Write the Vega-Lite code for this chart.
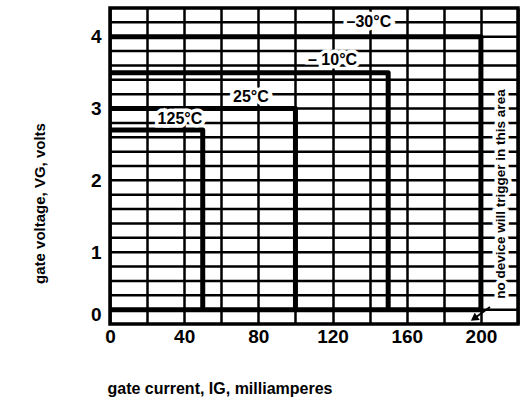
{
  "$schema": "https://vega.github.io/schema/vega-lite/v6.json",
  "width": 408,
  "height": 316,
  "autosize": "none",
  "padding": {"left": 110, "top": 8, "right": 12, "bottom": 77},
  "background": "white",
  "config": {
    "view": {"stroke": "black", "strokeWidth": 3.5},
    "font": "Liberation Sans"
  },
  "datasets": {
    "hgrid": [
      {"vg": 0.2}, {"vg": 0.4}, {"vg": 0.6}, {"vg": 0.8}, {"vg": 1.0},
      {"vg": 1.2}, {"vg": 1.4}, {"vg": 1.6}, {"vg": 1.8}, {"vg": 2.0},
      {"vg": 2.2}, {"vg": 2.4}, {"vg": 2.6}, {"vg": 2.8}, {"vg": 3.0},
      {"vg": 3.2}, {"vg": 3.4}, {"vg": 3.6}, {"vg": 3.8}, {"vg": 4.0},
      {"vg": 4.2}
    ],
    "curves": [
      {"series": "125", "i": 0, "ig": 0, "vg": 2.7},
      {"series": "125", "i": 1, "ig": 50, "vg": 2.7},
      {"series": "125", "i": 2, "ig": 50, "vg": 0.2},
      {"series": "25", "i": 0, "ig": 0, "vg": 3.0},
      {"series": "25", "i": 1, "ig": 100, "vg": 3.0},
      {"series": "25", "i": 2, "ig": 100, "vg": 0.2},
      {"series": "-10", "i": 0, "ig": 0, "vg": 3.5},
      {"series": "-10", "i": 1, "ig": 150, "vg": 3.5},
      {"series": "-10", "i": 2, "ig": 150, "vg": 0.2},
      {"series": "-30", "i": 0, "ig": 0, "vg": 4.0},
      {"series": "-30", "i": 1, "ig": 200, "vg": 4.0},
      {"series": "-30", "i": 2, "ig": 200, "vg": 0.2},
      {"series": "floor", "i": 0, "ig": 0, "vg": 0.2},
      {"series": "floor", "i": 1, "ig": 200, "vg": 0.2}
    ],
    "labels": [
      {"text": "–30°C", "ig": 139.6, "vg": 4.2},
      {"text": "– 10°C", "ig": 120, "vg": 3.68},
      {"text": "25°C", "ig": 76, "vg": 3.16},
      {"text": "125°C", "ig": 37.7, "vg": 2.86}
    ],
    "note": [
      {"text": "no device will trigger in this area", "ig": 210.9, "vg": 1.81}
    ],
    "arrow": [
      {"i": 0, "ig": 204.9, "vg": 0.237},
      {"i": 1, "ig": 196.5, "vg": 0.08}
    ],
    "arrowhead": [
      {"ig": 196.3, "vg": 0.075}
    ]
  },
  "layer": [
    {
      "data": {"name": "hgrid"},
      "mark": {"type": "rule", "color": "black", "strokeWidth": 2.5},
      "encoding": {
        "y": {
          "field": "vg", "type": "quantitative",
          "scale": {"domain": [0, 4.4], "nice": false, "zero": false},
          "axis": {
            "values": [0, 1, 2, 3, 4],
            "format": "d",
            "grid": false,
            "domain": false, "ticks": false,
            "labelFont": "Liberation Sans", "labelFontWeight": "bold", "labelFontSize": 19, "labelColor": "black",
            "labelPadding": 9, "labelOverlap": false, "labelFlush": true,
            "title": "gate voltage, VG, volts",
            "titleFont": "Liberation Sans", "titleFontWeight": "bold", "titleFontSize": 15, "titleColor": "black",
            "titleX": -66, "titleY": 195, "titleAlign": "center", "titleBaseline": "alphabetic", "titleAngle": -90
          }
        }
      }
    },
    {
      "data": {"name": "curves"},
      "mark": {"type": "line", "color": "black", "strokeWidth": 5, "strokeJoin": "round", "strokeCap": "butt"},
      "encoding": {
        "x": {
          "field": "ig", "type": "quantitative",
          "scale": {"domain": [0, 220], "nice": false, "zero": false},
          "axis": {
            "values": [0, 20, 40, 60, 80, 100, 120, 140, 160, 180, 200, 220],
            "tickCount": 200,
            "format": "d",
            "labelExpr": "(datum.value % 40 == 0 && datum.value <= 200) ? datum.label : ''",
            "grid": true, "gridColor": "black", "gridWidth": 2.5, "gridOpacity": 1,
            "domain": false, "ticks": false,
            "labelFont": "Liberation Sans", "labelFontWeight": "bold", "labelFontSize": 19, "labelColor": "black",
            "labelPadding": 3, "labelOverlap": false, "labelFlush": false,
            "title": "gate current, IG, milliamperes",
            "titleFont": "Liberation Sans", "titleFontWeight": "bold", "titleFontSize": 16, "titleColor": "black",
            "titleX": -3, "titleY": 69, "titleAlign": "left", "titleBaseline": "alphabetic"
          }
        },
        "y": {"field": "vg", "type": "quantitative"},
        "detail": {"field": "series"},
        "order": {"field": "i"}
      }
    },
    {
      "data": {"name": "labels"},
      "mark": {"type": "text", "font": "Liberation Sans", "fontWeight": "bold", "fontSize": 16, "fill": "white", "stroke": "white", "strokeWidth": 7, "align": "center", "baseline": "middle"},
      "encoding": {
        "x": {"field": "ig", "type": "quantitative"},
        "y": {"field": "vg", "type": "quantitative"},
        "text": {"field": "text"}
      }
    },
    {
      "data": {"name": "labels"},
      "mark": {"type": "text", "font": "Liberation Sans", "fontWeight": "bold", "fontSize": 16, "color": "black", "align": "center", "baseline": "middle"},
      "encoding": {
        "x": {"field": "ig", "type": "quantitative"},
        "y": {"field": "vg", "type": "quantitative"},
        "text": {"field": "text"}
      }
    },
    {
      "data": {"name": "note"},
      "mark": {"type": "text", "font": "Liberation Sans", "fontWeight": "bold", "fontSize": 13.5, "angle": 270, "fill": "white", "stroke": "white", "strokeWidth": 7, "align": "center", "baseline": "middle"},
      "encoding": {
        "x": {"field": "ig", "type": "quantitative"},
        "y": {"field": "vg", "type": "quantitative"},
        "text": {"field": "text"}
      }
    },
    {
      "data": {"name": "note"},
      "mark": {"type": "text", "font": "Liberation Sans", "fontWeight": "bold", "fontSize": 13.5, "angle": 270, "color": "black", "align": "center", "baseline": "middle"},
      "encoding": {
        "x": {"field": "ig", "type": "quantitative"},
        "y": {"field": "vg", "type": "quantitative"},
        "text": {"field": "text"}
      }
    },
    {
      "data": {"name": "arrow"},
      "mark": {"type": "line", "color": "black", "strokeWidth": 2},
      "encoding": {
        "x": {"field": "ig", "type": "quantitative"},
        "y": {"field": "vg", "type": "quantitative"},
        "order": {"field": "i"}
      }
    },
    {
      "data": {"name": "arrowhead"},
      "mark": {"type": "point", "shape": "triangle-up", "filled": true, "color": "black", "opacity": 1, "size": 80, "angle": 235},
      "encoding": {
        "x": {"field": "ig", "type": "quantitative"},
        "y": {"field": "vg", "type": "quantitative"}
      }
    }
  ]
}
